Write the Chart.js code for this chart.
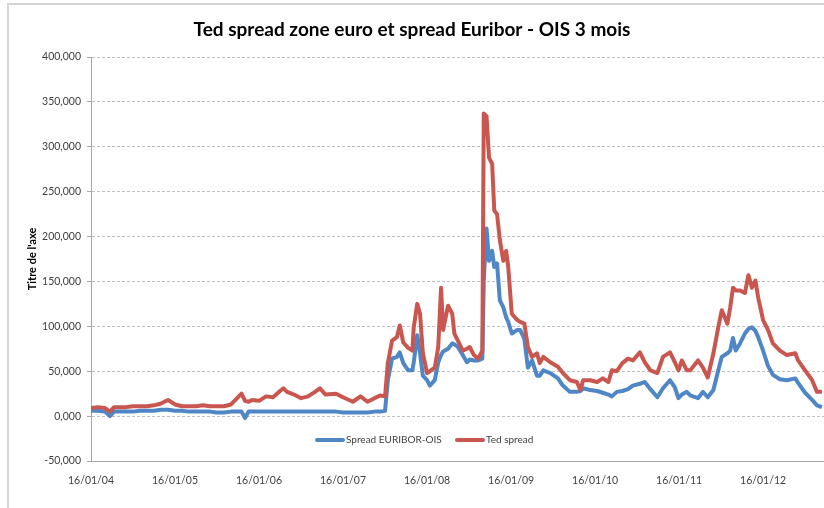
<!DOCTYPE html>
<html>
<head>
<meta charset="utf-8">
<script src="https://cdn.jsdelivr.net/npm/chart.js@4.4.1/dist/chart.umd.min.js"></script>
<style>
    html, body { margin: 0; padding: 0; background: #fff; overflow: hidden; }
    #frame { position: absolute; left: 7px; top: 3px; width: 900px; height: 600px;
             border-left: 2px solid #d4d4d4; border-top: 2px solid #d4d4d4; }
    #wrap { position: absolute; left: 0; top: 0; width: 824px; height: 508px; }
</style>
</head>
<body>
<div id="frame"></div>
<div id="wrap"><canvas id="chart" width="824" height="508"></canvas></div>
<script>
// 1. Data (months since 16/01/04, spreads in bp)
const months = [
    0, 1, 2, 2.7, 3.3, 4, 5, 6, 7, 8, 9, 10, 11, 12, 13, 14, 15, 16, 17, 18, 19, 20,
    21.5, 22, 22.5, 23, 24, 25, 26, 27, 27.5, 28, 29, 30, 31, 32, 32.7, 33.5, 35, 36, 37.4, 38.5, 39.5, 40.5, 41.3, 42,
    42.4, 43, 43.7, 44.1, 44.6, 45.3, 45.9, 46.1, 46.6, 47, 47.4, 48, 48.4, 49.1, 49.6, 50, 50.3, 51, 51.6, 51.9, 52.4, 53.1, 53.7, 54.1, 54.7, 55.3, 55.9,
    56.1, 56.5, 56.85, 57.3, 57.6, 58, 58.4, 58.9, 59.3, 59.6, 60.1, 60.9, 61.3, 61.9, 62.4, 63, 63.7, 64.1, 64.6, 65.6, 66.7,
    67.4, 68.4, 69.4, 69.9, 70.3, 71.3, 72.3, 73.1, 73.9, 74.4, 75.1, 75.9, 76.7, 77.4, 78.4, 79.1, 79.9, 80.9, 81.7, 82.7, 83.4, 83.9, 84.4, 85.1,
    85.6, 86.7, 87.4, 88.1, 88.9, 89.6, 90.1, 90.9, 91.3, 91.7, 92.1, 92.7, 93.4, 93.9, 94.4, 94.9, 95.3, 96, 96.7, 97.4, 98.4, 99.4, 100.6, 101, 102, 103, 103.7, 104.4
];

const euriborOis = [
    6, 6, 5, 0, 5, 5, 5, 5, 6, 6, 6, 7, 7, 6, 6, 5, 5, 5, 5, 4, 4, 5,
    5, -2, 5, 5, 5, 5, 5, 5, 5, 5, 5, 5, 5, 5, 5, 5, 5, 4, 4, 4, 4, 5, 5, 6,
    40, 64, 66, 71, 59, 51, 51, 60, 90, 70, 45, 40, 34, 40, 60, 68, 72, 75, 81, 80, 77, 68, 60, 63, 62, 62, 64,
    150, 209, 173, 184, 166, 170, 129, 121, 110, 105, 92, 96, 96, 86, 54, 62, 45, 45, 51, 48, 42,
    34, 27, 27, 28, 31, 29, 28, 26, 24, 22, 27, 28, 30, 34, 36, 38, 30, 21, 31, 40, 32, 20, 24, 27,
    23, 20, 27, 21, 29, 51, 66, 70, 73, 87, 73, 81, 92, 97, 99, 95, 88, 73, 56, 46, 41, 40, 42, 37, 26, 18, 12, 10
];

const tedSpread = [
    9, 10, 9, 5, 10, 10, 10, 11, 11, 11, 12, 14, 18, 13, 11, 11, 11, 12, 11, 11, 11, 13,
    25, 17, 16, 18, 17, 22, 21, 28, 31, 27, 24, 20, 22, 27, 31, 24, 25, 21, 16, 22, 16, 20, 23, 22,
    59, 84, 88, 101, 82, 76, 73, 99, 125, 114, 70, 48, 50, 54, 77, 143, 96, 123, 114, 92, 84, 73, 75, 77, 68, 64, 73,
    337, 334, 288, 281, 229, 225, 196, 173, 184, 166, 114, 107, 105, 103, 77, 66, 70, 59, 66, 60, 55,
    48, 40, 38, 29, 40, 40, 38, 42, 38, 51, 50, 59, 64, 62, 71, 60, 51, 48, 66, 71, 60, 51, 62, 51,
    51, 62, 54, 43, 70, 99, 118, 103, 121, 143, 140, 140, 137, 157, 143, 151, 132, 107, 96, 81, 73, 68, 70, 62, 51, 40, 27, 27
];

const yearTicks = [0, 12, 24, 36, 48, 60, 72, 84, 96];
const yearLabels = ['16/01/04', '16/01/05', '16/01/06', '16/01/07', '16/01/08', '16/01/09', '16/01/10', '16/01/11', '16/01/12'];

const BLUE = '#4f86c6';
const RED = '#c9564f';
const FONT = 'Lato, "Liberation Sans", sans-serif';

// 2. Legend drawn inside the plot area, like the original
const innerLegend = {
    id: 'innerLegend',
    afterDatasetsDraw(chart) {
        const ctx = chart.ctx;
        const y = 440;
        const items = [
            { label: 'Spread EURIBOR-OIS', color: BLUE, x: 315 },
            { label: 'Ted spread', color: RED, x: 455 }
        ];
        ctx.save();
        ctx.font = '10px ' + FONT;
        ctx.textBaseline = 'middle';
        items.forEach(it => {
            ctx.strokeStyle = it.color;
            ctx.lineWidth = 4;
            ctx.lineCap = 'round';
            ctx.beginPath();
            ctx.moveTo(it.x + 2, y);
            ctx.lineTo(it.x + 28, y);
            ctx.stroke();
            ctx.fillStyle = '#404040';
            ctx.fillText(it.label, it.x + 31, y);
        });
        ctx.restore();
    }
};

// 3. Chart
const toPoints = vals => vals.map((v, i) => ({ x: months[i], y: v }));

new Chart(document.getElementById('chart'), {
    type: 'line',
    data: {
        datasets: [
            {
                label: 'Spread EURIBOR-OIS',
                data: toPoints(euriborOis),
                borderColor: BLUE,
                borderWidth: 4,
                pointRadius: 0,
                tension: 0,
                borderJoinStyle: 'round',
                order: 2
            },
            {
                label: 'Ted spread',
                data: toPoints(tedSpread),
                borderColor: RED,
                borderWidth: 4,
                pointRadius: 0,
                tension: 0,
                borderJoinStyle: 'round',
                order: 1
            }
        ]
    },
    options: {
        responsive: false,
        animation: false,
        layout: { padding: { left: 0, right: 0, top: 0, bottom: 0 } },
        plugins: {
            legend: { display: false },
            tooltip: { enabled: false },
            title: {
                display: true,
                text: 'Ted spread zone euro et spread Euribor - OIS 3 mois',
                color: '#000',
                font: { family: FONT, size: 19, weight: 'bold' },
                padding: { top: 18, bottom: 16.2 }
            }
        },
        scales: {
            x: {
                type: 'linear',
                min: 0,
                max: 104.7,
                afterBuildTicks: s => { s.ticks = yearTicks.map(v => ({ value: v })); },
                afterFit: s => { s.height = 47; },
                grid: { display: false, drawTicks: false },
                border: { color: '#a6a6a6', width: 1 },
                ticks: {
                    padding: 13,
                    maxRotation: 0,
                    autoSkip: false,
                    color: '#404040',
                    font: { family: FONT, size: 10.5 },
                    callback: v => yearLabels[yearTicks.indexOf(v)]
                }
            },
            y: {
                min: -50,
                max: 400,
                afterFit: s => { s.width = 91; },
                grid: {
                    color: '#bfbfbf',
                    tickLength: 4,
                    tickColor: '#a6a6a6',
                    tickBorderDash: []
                },
                border: { color: '#a6a6a6', width: 1, dash: [3, 2] },
                ticks: {
                    stepSize: 50,
                    padding: 6,
                    color: '#404040',
                    font: { family: FONT, size: 10.5 },
                    callback: v => v.toFixed(3).replace('.', ',')
                },
                title: {
                    display: true,
                    text: "Titre de l'axe",
                    color: '#000',
                    font: { family: FONT, size: 11, weight: 'bold' },
                    padding: { top: 26, bottom: 0 }
                }
            }
        }
    },
    plugins: [innerLegend]
});
</script>
</body>
</html>
